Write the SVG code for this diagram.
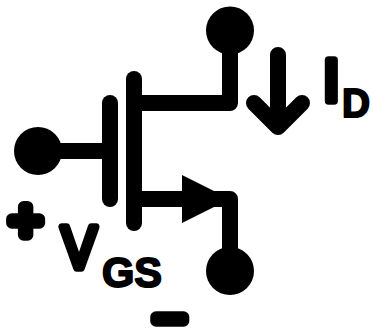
<svg xmlns="http://www.w3.org/2000/svg" width="373" height="328" viewBox="0 0 373 328">
<style>
.w{fill:none;stroke:#000;stroke-width:16;stroke-linecap:round;stroke-linejoin:round}
.t{fill:#000;stroke:#000;stroke-linejoin:round;font-family:"Liberation Sans",Arial,sans-serif}
.m{font-size:60px;stroke-width:7.500px}
.p{font-size:57px;stroke-width:11.400px}
.s{font-size:43px;font-weight:700;stroke-width:2px}
</style>
<rect width="373" height="328" fill="#fff"/>
<g id="connectors">
<path class="w" d="M38 151H110"/>
<path class="w" d="M230 30V103H134"/>
<path class="w" d="M134 199H230V271"/>
<path class="w" d="M278 55V127M254 103L278 127L302 103"/>
</g>
<g id="gate-plate"><path class="w" d="M110 103V199"/></g>
<g id="channel"><path class="w" d="M134 79V223"/></g>
<g id="source-arrow"><polygon points="182,175 230,199 182,223"/></g>
<g id="drain"><circle cx="230" cy="30.500" r="24"/></g>
<g id="gate"><circle cx="38" cy="151" r="24"/></g>
<g id="source"><circle cx="230" cy="271" r="24"/></g>
<g id="labels">
<text class="t m" x="323" y="101">I</text>
<text class="t s" x="342" y="117" font-size="41" textLength="28" lengthAdjust="spacingAndGlyphs" style="font-size:41px">D</text>
<text class="t m" x="61.500" y="268" textLength="35" lengthAdjust="spacingAndGlyphs">V</text>
<text class="t s" x="102" y="287" textLength="60" lengthAdjust="spacingAndGlyphs">GS</text>
<text class="t p" x="9" y="240">+</text>
<text class="t p" x="153" y="338">−</text>
</g>
</svg>
